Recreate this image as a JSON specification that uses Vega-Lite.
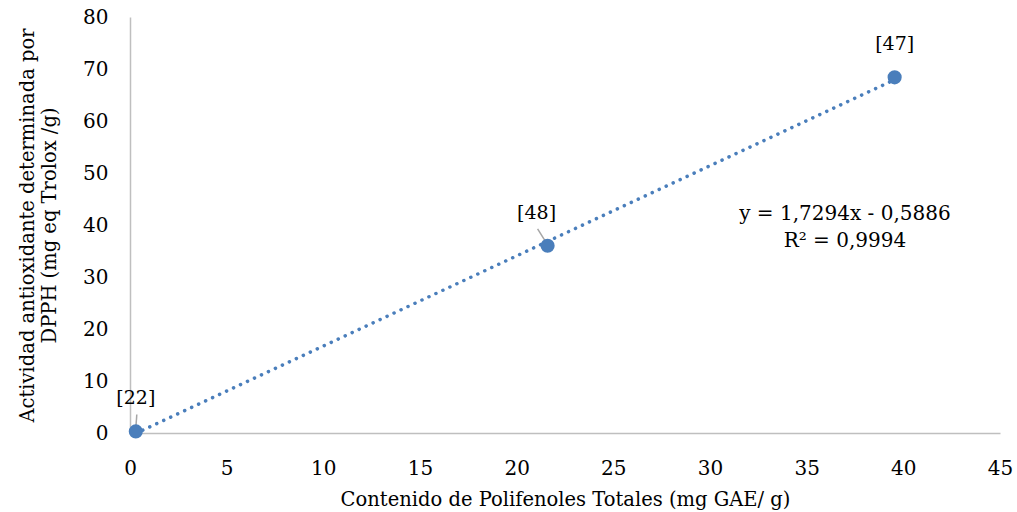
{
  "$schema": "https://vega.github.io/schema/vega-lite/v6.json",
  "autosize": "none",
  "width": 870,
  "height": 416,
  "padding": {"left": 130, "top": 17, "right": 17, "bottom": 79},
  "background": "white",
  "config": {
    "view": {"stroke": null},
    "font": "DejaVu Serif",
    "axis": {
      "grid": false,
      "ticks": false,
      "domainColor": "#bfbfbf",
      "domainWidth": 1.5,
      "labelFont": "DejaVu Serif",
      "labelFontSize": 20,
      "labelColor": "#000000",
      "labelFlush": false,
      "labelOverlap": false,
      "titleFont": "DejaVu Serif",
      "titleFontSize": 19.5,
      "titleFontWeight": "normal",
      "titleColor": "#000000",
      "titleLineHeight": 22
    }
  },
  "datasets": {
    "pts": [
      {"x": 0.3, "y": 0.3, "ref": "[22]"},
      {"x": 21.6, "y": 36.0, "ref": "[48]"},
      {"x": 39.55, "y": 68.4, "ref": "[47]"}
    ],
    "eq": [
      {"x": 36.98, "y": 42.1, "t": "y = 1,7294x - 0,5886"},
      {"x": 36.98, "y": 36.9, "t": "R² = 0,9994"}
    ]
  },
  "layer": [
    {
      "data": {"name": "pts"},
      "transform": [{"regression": "y", "on": "x", "extent": [0.3, 39.55]}],
      "mark": {"type": "line", "color": "#4a7ebb", "strokeWidth": 3.5, "strokeDash": [0.1, 7.6], "strokeCap": "round"},
      "encoding": {
        "x": {"field": "x", "type": "quantitative", "scale": {"domain": [0, 45], "nice": false, "zero": false}, "axis": {"values": [0,5,10,15,20,25,30,35,40,45], "labelPadding": 25, "title": "Contenido de Polifenoles Totales (mg GAE/ g)", "titlePadding": 12}},
        "y": {"field": "y", "type": "quantitative", "scale": {"domain": [0, 80], "nice": false, "zero": false}, "axis": {"values": [0,10,20,30,40,50,60,70,80], "labelPadding": 22, "title": ["Actividad antioxidante determinada por", "DPPH (mg eq Trolox /g)"], "titlePadding": 23}}
      }
    },
    {
      "data": {"name": "pts"},
      "transform": [{"filter": "datum.ref == '[22]'"}],
      "mark": {"type": "rule", "color": "#a6a6a6", "strokeWidth": 1.5, "yOffset": -3, "y2Offset": -17, "x2Offset": 1},
      "encoding": {
        "x": {"field": "x", "type": "quantitative"},
        "y": {"field": "y", "type": "quantitative"},
        "x2": {"field": "x"},
        "y2": {"field": "y"}
      }
    },
    {
      "data": {"name": "pts"},
      "transform": [{"filter": "datum.ref == '[48]'"}],
      "mark": {"type": "rule", "color": "#a6a6a6", "strokeWidth": 1.5, "yOffset": -1, "x2Offset": -10, "y2Offset": -17},
      "encoding": {
        "x": {"field": "x", "type": "quantitative"},
        "y": {"field": "y", "type": "quantitative"},
        "x2": {"field": "x"},
        "y2": {"field": "y"}
      }
    },
    {
      "data": {"name": "pts"},
      "mark": {"type": "point", "filled": true, "opacity": 1, "size": 200, "color": "#4a7ebb"},
      "encoding": {
        "x": {"field": "x", "type": "quantitative"},
        "y": {"field": "y", "type": "quantitative"}
      }
    },
    {
      "data": {"name": "pts"},
      "transform": [{"filter": "datum.ref != '[48]'"}],
      "mark": {"type": "text", "fontSize": 19, "dy": -33, "dx": 0, "color": "#000000"},
      "encoding": {
        "x": {"field": "x", "type": "quantitative"},
        "y": {"field": "y", "type": "quantitative"},
        "text": {"field": "ref"}
      }
    },
    {
      "data": {"name": "pts"},
      "transform": [{"filter": "datum.ref == '[48]'"}],
      "mark": {"type": "text", "fontSize": 19, "dy": -33, "dx": -11, "color": "#000000"},
      "encoding": {
        "x": {"field": "x", "type": "quantitative"},
        "y": {"field": "y", "type": "quantitative"},
        "text": {"field": "ref"}
      }
    },
    {
      "data": {"name": "eq"},
      "mark": {"type": "text", "fontSize": 20, "color": "#000000"},
      "encoding": {
        "x": {"field": "x", "type": "quantitative"},
        "y": {"field": "y", "type": "quantitative"},
        "text": {"field": "t"}
      }
    }
  ]
}
